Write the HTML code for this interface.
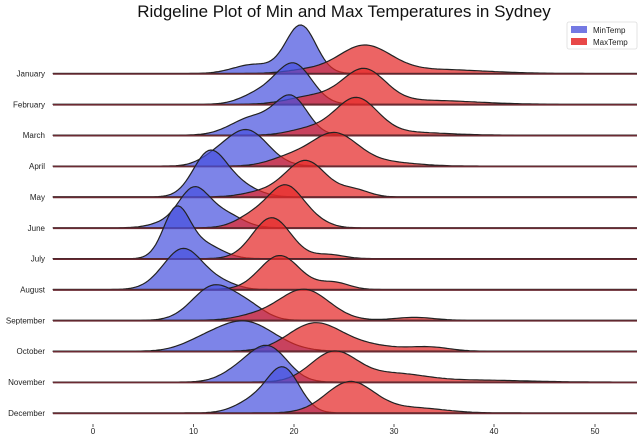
<!DOCTYPE html>
<html><head><meta charset="utf-8"><style>
body{margin:0;background:#fff;width:640px;height:437px;overflow:hidden}
svg{display:block;font-family:"Liberation Sans",sans-serif}
</style></head><body>
<svg id="s" width="640" height="437" xmlns="http://www.w3.org/2000/svg">
<text x="344" y="17" font-size="17" text-anchor="middle" fill="#111">Ridgeline Plot of Min and Max Temperatures in Sydney</text>
<g id="g"></g>
<g font-size="8" fill="#222" text-anchor="middle">
<line x1="93" y1="424" x2="93" y2="427" stroke="#555"/><text x="93" y="434">0</text>
<line x1="193.5" y1="424" x2="193.5" y2="427" stroke="#555"/><text x="193.5" y="434">10</text>
<line x1="294" y1="424" x2="294" y2="427" stroke="#555"/><text x="294" y="434">20</text>
<line x1="394" y1="424" x2="394" y2="427" stroke="#555"/><text x="394" y="434">30</text>
<line x1="494" y1="424" x2="494" y2="427" stroke="#555"/><text x="494" y="434">40</text>
<line x1="595" y1="424" x2="595" y2="427" stroke="#555"/><text x="595" y="434">50</text>
</g>
<g>
<rect x="567" y="22" width="70" height="27" fill="#fff" stroke="#ddd" stroke-width="0.8" rx="2"/>
<rect x="571" y="26" width="16" height="7" fill="#7479e3"/>
<rect x="571" y="38" width="16" height="7" fill="#e84848"/>
<text x="593" y="33" font-size="8" fill="#222">MinTemp</text>
<text x="593" y="45" font-size="8" fill="#222">MaxTemp</text>
</g>
</svg>
<script>
var months=["January","February","March","April","May","June","July","August","September","October","November","December"];
var D=[
[[[20.7,1.5,48],[16,2,9]],[[27,2.6,27],[34,5,4],[21,2,3]]],
[[[20,1.8,40],[16.5,1.8,10]],[[27,2.1,33],[22,2.5,8],[33,5,4]]],
[[[19.8,1.6,36],[16,2.2,18]],[[26.2,2.1,36],[21.5,2,6],[31,4,3]]],
[[[15.3,2.1,36],[12,1.5,6]],[[24,2.3,32],[19.5,2,8],[29,3,4]]],
[[[11.5,1.6,40],[14,2,14]],[[21.2,2,36],[26,1.5,7],[17,2,5]]],
[[[10,1.5,37],[13,1.8,14],[7,1.5,4]],[[19.2,1.7,40],[16,1.7,12],[22,1.5,6]]],
[[[8.3,1.3,48],[11,1.8,14]],[[17.8,1.9,41],[23.5,1.5,4]]],
[[[9,2,41],[13,1.5,5]],[[18.6,2,34],[24,1.5,7]]],
[[[12,2.1,34],[15.5,1.7,12]],[[21,2.5,31],[16,2,4],[32,2,3]]],
[[[15,3,30],[10.5,2,5]],[[22,2.6,27],[27,3,6],[33.5,2,4]]],
[[[17.5,1.9,34],[14.5,1.8,10]],[[24,2.3,30],[30,3,8],[38,5,2]]],
[[[19,1.6,43],[16,1.8,12]],[[25.6,2.4,31],[32,3,5]]]
];
var g=document.getElementById("g"),h="";
function X(t){return 93+t*10.04;}
function path(comps,base){
  var d="M53,"+base;
  for(var t=-4;t<=54.01;t+=0.25){
    var v=0;comps.forEach(function(c){v+=c[2]*Math.exp(-0.5*Math.pow((t-c[0])/c[1],2));});
    d+=" L"+X(t).toFixed(1)+","+(base-v).toFixed(1);
  }
  return d+" L637,"+base+" Z";
}
for(var i=0;i<12;i++){
  var b=73.5+i*30.86;
  h+='<text x="45" y="'+(b+3)+'" font-size="8" fill="#222" text-anchor="end">'+months[i]+'</text>';
  h+='<path d="'+path(D[i][0],b)+'" fill="rgba(70,80,222,0.7)" stroke="#222" stroke-width="1.2"/>';
  h+='<path d="'+path(D[i][1],b)+'" fill="rgba(228,40,40,0.72)" stroke="#222" stroke-width="1.2"/>';
  h+='<line x1="53" x2="637" y1="'+(b+0.5)+'" y2="'+(b+0.5)+'" stroke="#6a2a32" stroke-width="1.6"/>';
}
g.innerHTML=h;
</script>
</body></html>
